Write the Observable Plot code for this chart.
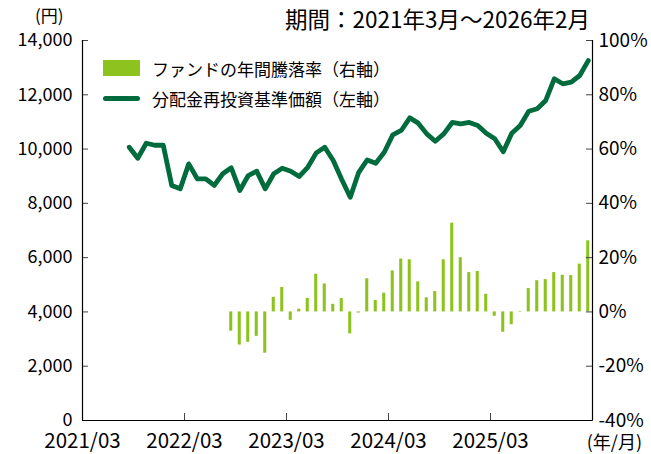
<!DOCTYPE html>
<html><head><meta charset="utf-8">
<script src="https://cdn.jsdelivr.net/npm/d3@7"></script>
<script src="https://cdn.jsdelivr.net/npm/@observablehq/plot@0.6"></script>
<style>
body{margin:0;background:#fff;font-family:'Noto Sans CJK JP',sans-serif;color:#000}
#wrap{position:relative;width:651px;height:454px;overflow:hidden}
.ov{position:absolute;white-space:nowrap;line-height:1}
</style></head><body>
<div id="wrap"></div>
<script>
// ---- data ----
const navMonths = ["2021/08","2021/09","2021/10","2021/11","2021/12","2022/01","2022/02","2022/03","2022/04","2022/05","2022/06","2022/07",
"2022/08","2022/09","2022/10","2022/11","2022/12","2023/01","2023/02","2023/03","2023/04","2023/05","2023/06","2023/07",
"2023/08","2023/09","2023/10","2023/11","2023/12","2024/01","2024/02","2024/03","2024/04","2024/05","2024/06","2024/07",
"2024/08","2024/09","2024/10","2024/11","2024/12","2025/01","2025/02","2025/03","2025/04","2025/05","2025/06","2025/07",
"2025/08","2025/09","2025/10","2025/11","2025/12","2026/01","2026/02"];
const navValues = [10070,9660,10215,10140,10140,8660,8535,9455,8905,8905,8660,9090,
9310,8475,9025,9185,8535,9090,9295,9185,8990,9330,9860,10070,
9580,8880,8225,9145,9600,9480,9885,10525,10685,11150,10955,10560,
10290,10560,10980,10930,10980,10870,10585,10380,9900,10585,10870,11395,
11485,11790,12590,12405,12465,12710,13260];
const retMonths = ["2022/08","2022/09","2022/10","2022/11","2022/12","2023/01","2023/02","2023/03","2023/04","2023/05","2023/06","2023/07",
"2023/08","2023/09","2023/10","2023/11","2023/12","2024/01","2024/02","2024/03","2024/04","2024/05","2024/06","2024/07",
"2024/08","2024/09","2024/10","2024/11","2024/12","2025/01","2025/02","2025/03","2025/04","2025/05","2025/06","2025/07",
"2025/08","2025/09","2025/10","2025/11","2025/12","2026/01","2026/02"];
const retValues = [-7.1,-12.2,-11.2,-9.0,-15.2,5.4,9.0,-3.1,1.0,5.0,
13.9,10.3,2.8,4.9,-8.1,-0.4,12.2,4.2,6.9,15.1,
19.5,19.2,11.1,5.2,7.5,19.2,32.7,20.0,14.5,14.9,
6.5,-1.6,-7.5,-4.7,0.2,8.6,11.5,11.9,14.5,13.5,
13.4,17.6,26.2];
const xTickMonths = ["2021/03","2022/03","2023/03","2024/03","2025/03"];
const axisStart = "2021/03", axisEnd = "2026/03";
const yTicks = [0,2000,4000,6000,8000,10000,12000,14000];
const rTicks = [-40,-20,0,20,40,60,80,100];
const yMax = 14000, rMin = -40, rMax = 100;

// ---- helpers ----
const mIndex = s => { const [y,m] = s.split("/").map(Number); return (y-2021)*12 + (m-3); };
const toLeft = r => (r - rMin) * yMax / (rMax - rMin);
const nav = navMonths.map((m,k) => ({i: mIndex(m), v: navValues[k]}));
const ret = retMonths.map((m,k) => ({i: mIndex(m), r: retValues[k]}));
const half = 0.18;

const chart = Plot.plot({
  width: 651, height: 454,
  marginLeft: 82, marginRight: 59, marginTop: 40, marginBottom: 34,
  style: {fontFamily: "'Noto Sans CJK JP', sans-serif", fontSize: "18px", color: "#000", background: "#fff"},
  x: {type: "linear", domain: [mIndex(axisStart), mIndex(axisEnd)]},
  y: {domain: [0, yMax]},
  marks: [
    Plot.rectY(ret, {x1: d => d.i + 0.5 - half, x2: d => d.i + 0.5 + half, y1: toLeft(0), y2: d => toLeft(d.r), fill: "#8DC21F"}),
    Plot.line(nav, {x: d => d.i + 0.5, y: "v", stroke: "#006B3C", strokeWidth: 4.8, strokeLinejoin: "round", strokeLinecap: "round"}),
    Plot.axisY({ticks: yTicks, tickFormat: d3.format(","), tickSize: -6, tickPadding: 16, stroke: "#444", label: null}),
    Plot.axisY({anchor: "right", ticks: rTicks.map(toLeft), tickFormat: v => `${Math.round(v*(rMax-rMin)/yMax + rMin)}%`, tickSize: -7, tickPadding: 13, stroke: "#444", fontSize: 19, label: null}),
    Plot.axisX({ticks: xTickMonths.map(mIndex), tickFormat: i => xTickMonths.find(m => mIndex(m) === i), tickSize: -7, tickPadding: 20, stroke: "#444", fontSize: 20.5, label: null}),
    Plot.ruleX([mIndex(axisStart), mIndex(axisEnd)], {stroke: "#000", strokeWidth: 1.2}),
    Plot.ruleY([0], {stroke: "#000", strokeWidth: 1.2})
  ]
});
const wrap = document.getElementById("wrap");
wrap.appendChild(chart);

function ov(html, css){ const d=document.createElement("div"); d.className="ov"; d.innerHTML=html; Object.assign(d.style, css); wrap.appendChild(d); return d; }
ov("(円)", {left:"35px", top:"6px", fontSize:"17px"});
ov("期間：2021年3月～2026年2月", {right:"61px", top:"7px", fontSize:"22.5px"});
ov("(年/月)", {right:"9px", top:"432px", fontSize:"18px"});
ov('<span style="display:inline-block;width:37px;height:16px;background:#8DC21F;vertical-align:middle;margin-right:12px"></span><span style="vertical-align:middle">ファンドの年間騰落率（右軸）</span>', {left:"103px", top:"57px", fontSize:"17px"});
ov('<span style="display:inline-block;width:37px;height:5px;border-radius:3px;background:#006B3C;vertical-align:middle;margin-right:12px"></span><span style="vertical-align:middle">分配金再投資基準価額（左軸）</span>', {left:"103px", top:"87px", fontSize:"17px"});
</script>
</body></html>
